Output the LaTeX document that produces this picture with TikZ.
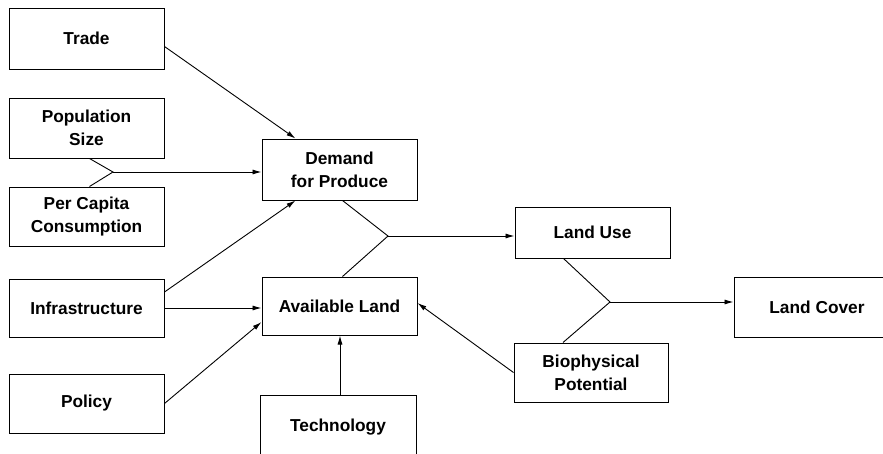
\documentclass[tikz,border=0pt]{standalone}
\usepackage{fontspec}
\setmainfont{Liberation Sans}
\usetikzlibrary{arrows.meta,calc}
\begin{document}
\begin{tikzpicture}[x=1pt,y=-1pt,
  box/.style={draw,line width=1pt,inner sep=0pt,align=center,
    font=\fontsize{17.3}{23}\selectfont\bfseries},
  conn/.style={line width=0.9pt},
  arr/.style={conn,-{Latex[length=9pt,width=5pt]}}]
\useasboundingbox (0,0) rectangle (883,453);
\clip (0,0) rectangle (883,453);
% boxes
\node[box,minimum width=155pt,minimum height=61pt] (trade) at (86.5,38.5) {Trade};
\node[box,minimum width=155pt,minimum height=60pt] (pop) at (86.5,128) {Population\\Size};
\node[box,minimum width=155pt,minimum height=59pt] (percap) at (86.5,216.5) {Per Capita\\Consumption};
\node[box,minimum width=155pt,minimum height=58pt] (infra) at (86.5,308) {Infrastructure};
\node[box,minimum width=155pt,minimum height=59pt] (policy) at (86.5,403.5) {Policy};
\node[box,minimum width=155pt,minimum height=61pt] (demand) at (339.5,169.5) {Demand\\for Produce};
\node[box,minimum width=155pt,minimum height=58pt] (avail) at (339.5,306) {Available Land};
\node[box,minimum width=156pt,minimum height=64pt] (tech) at (338,427) {Technology};
\node[box,minimum width=155pt,minimum height=51pt,text depth=-10pt] (landuse) at (592.5,232.5) {Land Use};
\node[box,minimum width=154pt,minimum height=59pt] (bio) at (591,372.5) {Biophysical\\Potential};
\node[box,minimum width=166pt,minimum height=60pt] (landcover) at (817,307) {Land Cover};
% junctions
\coordinate (j1) at (113,172);
\coordinate (j2) at (388,236);
\coordinate (j3) at (610,302);
% connectors
\draw[arr] ($(trade.east)+(0,8)$) -- ($(demand.north west)+(34,0)$);
\draw[conn] ($(pop.south)+(3,0)$) -- (j1) -- ($(percap.north)+(3,0)$);
\draw[arr] (j1) -- (j1 -| demand.west);
\draw[arr] ($(infra.east)+(0,-16)$) -- ($(demand.south west)+(34,0)$);
\draw[arr] (infra.east) -- (infra.east -| avail.west);
\draw[arr] (policy.east) -- ($(avail.west)+(0,16)$);
\draw[conn] ($(demand.south)+(3,0)$) -- (j2) -- ($(avail.north)+(3,0)$);
\draw[arr] (j2) -- (j2 -| landuse.west);
\draw[arr] ($(tech.north)+(2,0)$) -- ($(avail.south)+(0.5,0)$);
\draw[arr] (bio.west) -- ($(avail.east)+(0,-3)$);
\draw[conn] ($(landuse.south)+(-29,0)$) -- (j3) -- ($(bio.north)+(-28,0)$);
\draw[arr] (j3) -- (j3 -| landcover.west);
\end{tikzpicture}
\end{document}
